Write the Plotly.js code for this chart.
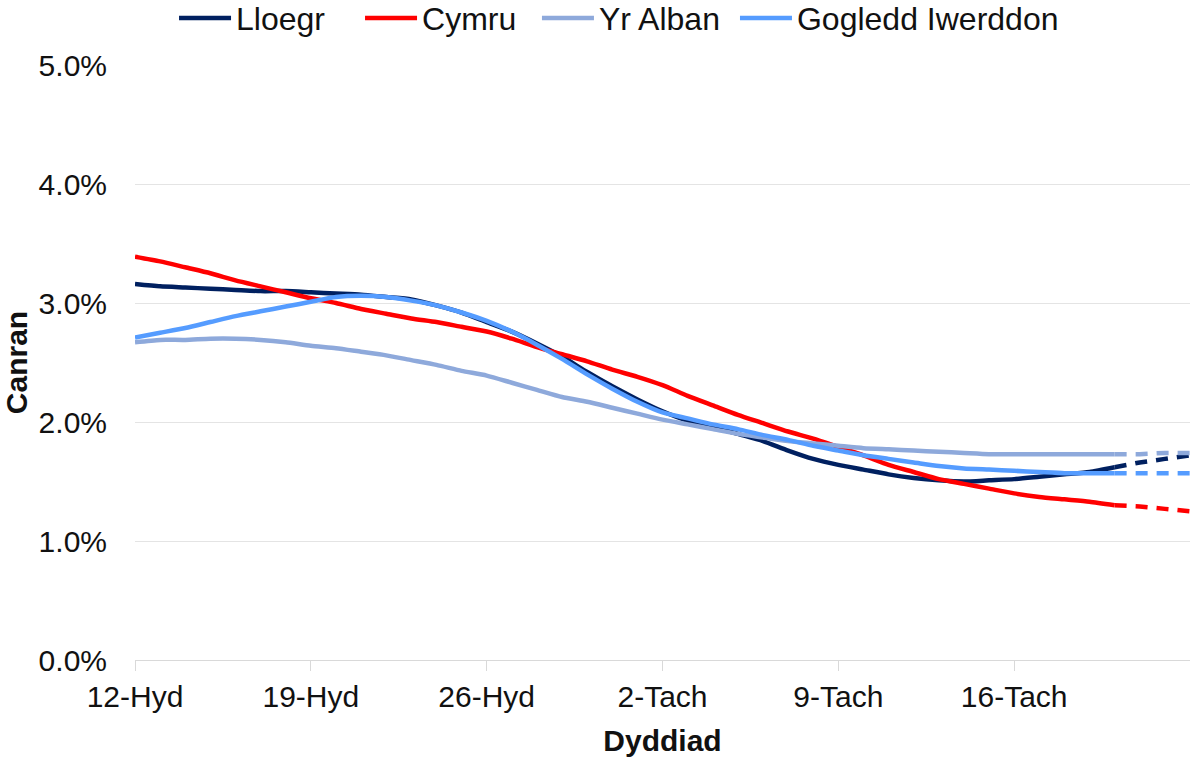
<!DOCTYPE html>
<html>
<head>
<meta charset="utf-8">
<script src="https://cdn.plot.ly/plotly-3.0.1.min.js"></script>
<style>
html,body{margin:0;padding:0;background:#fff;}
#chart{width:1195px;height:758px;}
</style>
</head>
<body>
<div id="chart"></div>
<script>
// Dates (12 Oct – 23 Nov)
const dates = [
  "2020-10-12","2020-10-13","2020-10-14","2020-10-15","2020-10-16","2020-10-17","2020-10-18",
  "2020-10-19","2020-10-20","2020-10-21","2020-10-22","2020-10-23","2020-10-24","2020-10-25",
  "2020-10-26","2020-10-27","2020-10-28","2020-10-29","2020-10-30","2020-10-31","2020-11-01",
  "2020-11-02","2020-11-03","2020-11-04","2020-11-05","2020-11-06","2020-11-07","2020-11-08",
  "2020-11-09","2020-11-10","2020-11-11","2020-11-12","2020-11-13","2020-11-14","2020-11-15",
  "2020-11-16","2020-11-17","2020-11-18","2020-11-19","2020-11-20","2020-11-21","2020-11-22",
  "2020-11-23"
];
// index of the last solid (observed) point; after it the line is dashed
const lastSolid = 39;

const seriesNames = ["Lloegr", "Cymru", "Yr Alban", "Gogledd Iwerddon"];

// Percent values
const lloegr = [
  3.16,3.14,3.13,3.12,3.11,3.10,3.10,3.09,3.08,3.07,3.05,3.03,2.98,2.92,
  2.84,2.76,2.66,2.55,2.42,2.30,2.19,2.09,2.01,1.96,1.90,1.84,1.76,1.69,
  1.64,1.60,1.56,1.53,1.51,1.50,1.51,1.52,1.54,1.56,1.58,1.62,1.66,1.69,1.72
];
const cymru = [
  3.39,3.35,3.30,3.25,3.19,3.14,3.09,3.04,3.00,2.95,2.91,2.87,2.84,2.80,
  2.76,2.70,2.63,2.57,2.51,2.44,2.38,2.31,2.22,2.14,2.06,1.99,1.92,1.86,
  1.79,1.72,1.64,1.58,1.52,1.48,1.44,1.40,1.37,1.35,1.33,1.30,1.29,1.27,1.25
];
const yrAlban = [
  2.67,2.69,2.69,2.70,2.70,2.69,2.67,2.64,2.62,2.59,2.56,2.52,2.48,2.43,
  2.39,2.33,2.27,2.21,2.17,2.12,2.07,2.02,1.98,1.94,1.90,1.87,1.84,1.82,
  1.80,1.78,1.77,1.76,1.75,1.74,1.73,1.73,1.73,1.73,1.73,1.73,1.73,1.74,1.74
];
const gogleddIwerddon = [
  2.71,2.75,2.79,2.84,2.89,2.93,2.97,3.01,3.05,3.06,3.05,3.02,2.98,2.92,
  2.85,2.76,2.65,2.53,2.40,2.28,2.17,2.08,2.03,1.98,1.94,1.89,1.85,1.80,
  1.76,1.72,1.69,1.66,1.63,1.61,1.60,1.59,1.58,1.57,1.57,1.57,1.57,1.57,1.57
];

const tickDates = ["2020-10-12","2020-10-19","2020-10-26","2020-11-02","2020-11-09","2020-11-16"];
const tickLabels = ["12-Hyd","19-Hyd","26-Hyd","2-Tach","9-Tach","16-Tach"];

const colors = ["#002060", "#FF0000", "#8EA9DB", "#559CFF"];
const allValues = [lloegr, cymru, yrAlban, gogleddIwerddon];
const legendIds = ["legend", "legend2", "legend3", "legend4"];
const legendX = [0.037, 0.2133, 0.381, 0.5687];

const traces = [];
allValues.forEach((vals, i) => {
  traces.push({
    x: dates.slice(0, lastSolid + 1),
    y: vals.slice(0, lastSolid + 1).map(v => v / 100),
    type: "scatter", mode: "lines", name: seriesNames[i],
    legend: legendIds[i],
    line: {color: colors[i], width: 4.5, shape: "spline", smoothing: 0.6},
    hoverinfo: "x+y"
  });
});
allValues.forEach((vals, i) => {
  traces.push({
    x: dates.slice(lastSolid),
    y: vals.slice(lastSolid).map(v => v / 100),
    type: "scatter", mode: "lines", name: seriesNames[i] + " (dash)",
    legend: legendIds[i],
    showlegend: false,
    line: {color: colors[i], width: 4.5, dash: "12px,9px"},
    hoverinfo: "x+y"
  });
});

const fam = "Liberation Sans, Arial, sans-serif";
const font = {family: fam, size: 30, color: "#111111"};
const legendFont = {family: fam, size: 32, color: "#111111"};

const layout = {
  width: 1195, height: 758,
  margin: {l: 135, r: 5, t: 65, b: 98, autoexpand: false},
  paper_bgcolor: "#ffffff", plot_bgcolor: "#ffffff",
  font: font,
  showlegend: true,
  xaxis: {
    type: "date",
    range: ["2020-10-12", "2020-11-23"],
    tickvals: tickDates, ticktext: tickLabels,
    ticks: "outside", ticklen: 10, tickcolor: "#d9d9d9", tickwidth: 1,
    showline: true, linecolor: "#d9d9d9", linewidth: 1,
    showgrid: false, zeroline: false,
    tickfont: font, automargin: false,
    title: {text: "<b>Dyddiad</b>", font: font, standoff: 17}
  },
  yaxis: {
    range: [0, 0.05],
    tickvals: [0, 0.01, 0.02, 0.03, 0.04, 0.05],
    tickformat: ".1%",
    showgrid: true, gridcolor: "#e4e4e4", gridwidth: 1,
    zeroline: false, showline: false, ticks: "",
    ticklabelstandoff: 27, automargin: false,
    tickfont: font,
    title: {text: "<b>Canran</b>", font: font, standoff: 4}
  }
};
legendIds.forEach((id, i) => {
  layout[id] = {
    orientation: "h", x: legendX[i], xanchor: "left", xref: "paper",
    y: 1.125, yanchor: "top", yref: "paper",
    font: legendFont, itemwidth: 52,
    bgcolor: "rgba(0,0,0,0)"
  };
});

Plotly.newPlot("chart", traces, layout, {staticPlot: true, displayModeBar: false});
</script>
</body>
</html>
